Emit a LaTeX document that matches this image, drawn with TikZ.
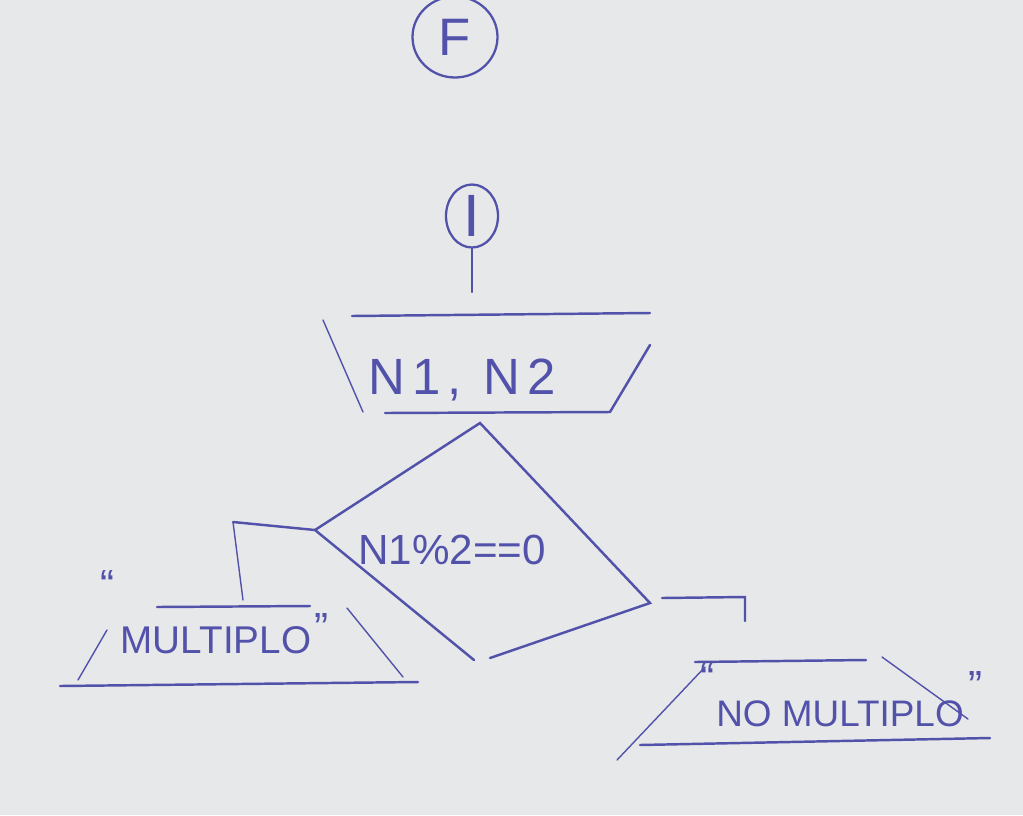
\documentclass[tikz,border=0pt]{standalone}
\usepackage{xcolor}
\usepackage{fontspec}
\setmainfont{Liberation Sans}
\usepackage{tikz}
\usetikzlibrary{shapes.geometric, positioning, calc}
\definecolor{ink}{RGB}{82,82,170}
\definecolor{paper}{RGB}{231,232,234}
\tikzset{
  pen/.style={draw=ink, line width=1.4pt, line cap=round},
  thinpen/.style={draw=ink, line width=0.8pt, line cap=round},
  term/.style={ellipse, draw=ink, line width=1.3pt, inner sep=0pt,
    text=ink, font=\fontsize{30}{32}\selectfont},
  lbl/.style={text=ink, inner sep=0pt, font=\fontsize{22}{24}\selectfont},
  qmark/.style={text=ink, inner sep=0pt, font=\fontsize{24}{26}\selectfont}
}

\begin{document}
\begin{tikzpicture}[x=0.02cm, y=-0.02cm]
  % Paper
  \fill[paper] (0,0) rectangle (1023,815);
  \useasboundingbox (0,0) rectangle (1023,815);

  % Terminals
  \node[term, minimum width=1.7cm, minimum height=1.62cm] (fin) at (455,37) {F};
  \node[term, minimum width=1.04cm, minimum height=1.26cm, font=\fontsize{34}{36}\selectfont] (ini) at (472,216) {I};
  \coordinate (inidown) at (472,292);
  \draw[pen] (ini.south) -- (inidown);

  % Input N1, N2
  \node[lbl, font=\fontsize{29}{32}\selectfont\addfontfeatures{LetterSpace=14}] (input) at (462,380) {N1, N2};
  \draw[pen] (352,316) -- (650,313);
  \draw[thinpen] (323,320) -- (363,412);
  \draw[pen] (650,345) -- (610,412);
  \draw[pen] (385,413) -- (610,412);

  % Decision
  \coordinate (dtop) at (480,423);
  \coordinate (dleft) at (315,530);
  \coordinate (dright) at (650,603);
  \coordinate (dbot) at (474,660);
  \draw[pen] (dbot) -- (dleft) -- (dtop) -- (dright) -- (490,658);
  \node[lbl, font=\fontsize{24}{26}\selectfont] (cond) at (452,550) {N1\%2==0};

  % Branches
  \coordinate (ltop) at (233,522);
  \coordinate (lend) at (243,600);
  \coordinate (rtop) at (745,597);
  \coordinate (rend) at (745,621);
  \draw[pen] (dleft) -- (ltop);
  \draw[thinpen] (ltop) -- (lend);
  \draw[pen] (662,598) -- (rtop) -- (rend);

  % Output multiplo
  \draw[pen] (157,607) -- (310,606);
  \draw[thinpen] (107,630) -- (78,680);
  \draw[thinpen] (347,608) -- (403,677);
  \draw[pen] (60,686) -- (418,682);
  \node[lbl] (outyes) at (216,640) {MULTIPLO};
  \node[qmark] (lqa) at (108,585) {“};
  \node[qmark] (lqb) at (322,628) {”};

  % Output no multiplo
  \draw[pen] (695,662) -- (866,660);
  \draw[thinpen] (705,667) -- (617,760);
  \draw[thinpen] (882,657) -- (968,719);
  \draw[pen] (640,745) -- (990,738);
  \node[lbl, font=\fontsize{21}{24}\selectfont] (outno) at (840,714) {NO MULTIPLO};
  \node[qmark] (rqa) at (708,678) {“};
  \node[qmark] (rqb) at (976,686) {”};
\end{tikzpicture}
\end{document}
